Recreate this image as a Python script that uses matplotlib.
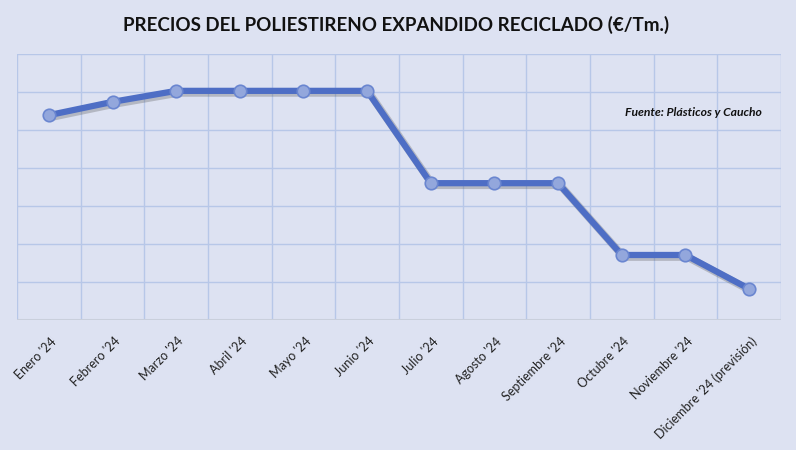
import matplotlib.pyplot as plt
import matplotlib.patheffects as pe
import numpy as np

meses = ["Enero '24", "Febrero '24", "Marzo '24", "Abril '24", "Mayo '24", "Junio '24",
         "Julio '24", "Agosto '24", "Septiembre '24", "Octubre '24", "Noviembre '24",
         "Diciembre '24 (previsión)"]
# precios aproximados (escala, sin etiquetas en el eje)
precios = [539, 574, 603, 603, 603, 603, 360, 360, 360, 171, 171, 82]

bg = '#dde2f2'
fig = plt.figure(figsize=(7.96, 4.5), dpi=100, facecolor=bg)
ax = fig.add_axes([0.0214, 0.289, 0.9596, 0.591])
ax.set_facecolor(bg)

x = np.arange(len(meses))
shadow = [pe.SimpleLineShadow(offset=(1.5, -1.5), shadow_color='#555555', alpha=0.3, linewidth=5.5),
          pe.Normal()]
ax.plot(x, precios, color='#4e6ec5', lw=4.5, solid_joinstyle='round', zorder=3,
        path_effects=shadow)
ax.plot(x, precios, ls='none', zorder=4,
        marker='o', markersize=9, markerfacecolor='#93a7dc', markeredgecolor='#6a86d0',
        markeredgewidth=1.2)

ax.set_xlim(-0.5, len(meses) - 0.5)
ax.set_ylim(0, 700)
ax.set_yticks(np.arange(0, 701, 100))
ax.set_xticks(np.arange(-0.5, len(meses)), minor=False)
ax.set_xticklabels([])
ax.grid(True, color='#b7c7e8', lw=1)
ax.tick_params(length=0, labelleft=False)
for s in ax.spines.values():
    s.set_visible(False)
ax.axhline(0, color='#c9cfdc', lw=1.5, zorder=2)

for i, m in enumerate(meses):
    ax.annotate(m, xy=(i, 0), xycoords='data', xytext=(4, -14), textcoords='offset points',
                rotation=45, rotation_mode='anchor', ha='right', va='center',
                fontsize=9, family='Lato', color='#222222')

ax.text(0.975, 0.78, 'Fuente: Plásticos y Caucho', transform=ax.transAxes,
        ha='right', va='center', fontsize=8.7, style='italic', weight='bold',
        family='Lato', color='#111111')

fig.text(0.497, 0.945, 'PRECIOS DEL POLIESTIRENO EXPANDIDO RECICLADO (€/Tm.)',
         ha='center', va='center', fontsize=13.5, weight='bold', family='Lato', color='#111111')

fig.savefig('out.png', dpi=100, facecolor=bg)
